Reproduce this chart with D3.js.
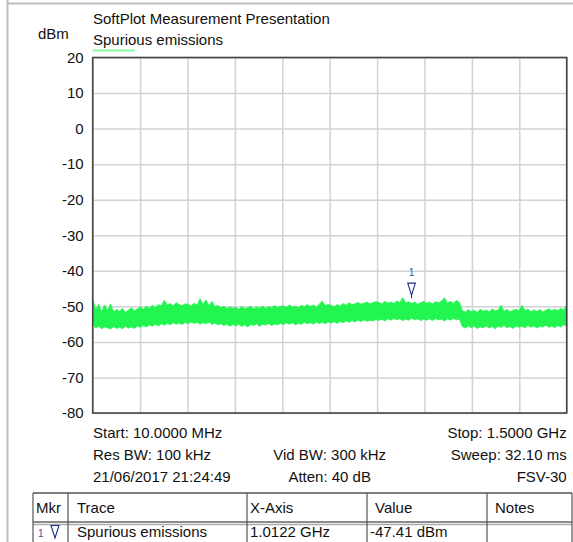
<!DOCTYPE html>
<html>
<head>
<meta charset="utf-8">
<script src="https://cdn.jsdelivr.net/npm/d3@7"></script>
<style>
  body { margin: 0; background: #fff; }
  svg { display: block; font-family: "Liberation Sans", Arial, sans-serif; }
</style>
</head>
<body>
<svg id="chart" width="573" height="542"></svg>
<script>
// sweep settings (MHz) and level axis
var freqStart = 10, freqStop = 1500;
var yTicks = [20, 10, 0, -10, -20, -30, -40, -50, -60, -70, -80];

// upper and lower edge of the noise trace, dBm (160 sweep points)
var traceTop = [
  -47.7, -51.0, -49.4, -51.5, -49.6, -51.2, -49.3, -51.6, -50.9, -51.4, -50.6, -51.7, -51.0, -50.4, -51.3, -50.7,
  -50.2, -50.8, -50.0, -50.5, -49.7, -50.3, -49.5, -49.9, -48.3, -49.6, -49.2, -49.9, -49.0, -49.5, -49.8, -49.3,
  -49.4, -49.9, -49.1, -49.7, -47.8, -49.5, -48.2, -49.8, -48.6, -50.1, -49.7, -50.4, -50.0, -50.6, -50.2, -50.5,
  -50.3, -50.8, -50.1, -50.6, -50.4, -50.0, -50.7, -50.2, -50.5, -49.9, -50.6, -50.1, -50.4, -49.8, -50.3, -50.0,
  -49.8, -50.3, -49.6, -50.2, -49.9, -50.4, -49.7, -50.1, -49.5, -50.0, -49.6, -50.2, -49.4, -48.5, -49.8, -49.5,
  -49.7, -50.1, -49.5, -49.9, -49.2, -49.7, -49.0, -49.5, -49.3, -48.9, -49.4, -49.1, -48.8, -49.3, -49.0, -48.7,
  -48.9, -49.3, -48.6, -49.1, -48.8, -49.2, -48.5, -48.9, -47.6, -49.0, -48.7, -49.2, -48.8, -49.4, -49.0, -48.6,
  -49.1, -48.8, -49.3, -48.7, -49.0, -48.5, -47.6, -49.1, -48.6, -49.2, -48.3, -48.9, -51.2, -51.6, -50.9, -51.5,
  -51.1, -51.7, -50.8, -51.4, -51.0, -51.6, -50.7, -51.3, -51.0, -49.7, -51.4, -50.9, -51.5, -51.1, -50.8, -51.3,
  -49.7, -51.2, -50.8, -51.5, -51.0, -51.4, -50.9, -51.6, -51.1, -50.7, -51.3, -50.8, -51.2, -50.6, -51.0, -49.5
];
var traceBottom = [
  -55.2, -56.1, -55.6, -56.3, -55.8, -56.0, -56.4, -55.7, -56.2, -55.9, -56.3, -55.6, -56.1, -55.8, -56.2, -55.5,
  -55.9, -55.4, -55.8, -55.2, -55.6, -55.0, -55.5, -54.9, -55.3, -54.8, -55.2, -54.6, -55.0, -54.7, -55.1, -54.5,
  -54.9, -54.4, -54.8, -54.5, -55.0, -54.6, -54.9, -54.4, -55.1, -54.7, -55.2, -54.9, -55.4, -55.0, -55.6, -55.1,
  -55.5, -55.0, -55.7, -55.2, -55.8, -55.1, -55.4, -54.9, -55.6, -55.0, -55.3, -54.8, -55.4, -55.0, -55.2, -54.8,
  -55.1, -54.7, -55.0, -54.6, -55.2, -54.8, -55.0, -54.5, -54.9, -54.6, -55.0, -54.4, -54.8, -54.5, -54.9, -54.4,
  -54.7, -54.3, -54.8, -54.2, -54.6, -54.1, -54.5, -54.0, -54.4, -53.9, -54.3, -53.8, -54.2, -53.9, -54.1, -53.7,
  -54.0, -53.6, -54.1, -53.5, -53.9, -53.4, -53.8, -53.5, -54.0, -53.6, -53.9, -53.3, -53.8, -53.5, -54.0, -53.6,
  -53.9, -53.5, -54.0, -53.4, -53.8, -53.6, -54.1, -53.5, -53.9, -53.4, -53.8, -53.6, -55.7, -56.1, -55.5, -56.0,
  -55.6, -56.2, -55.8, -56.0, -55.5, -56.1, -55.7, -56.3, -55.6, -55.9, -55.4, -56.0, -55.7, -56.2, -55.5, -55.9,
  -55.6, -56.0, -55.4, -55.9, -55.5, -56.1, -55.6, -55.8, -55.3, -55.9, -55.5, -56.0, -55.4, -55.8, -55.2, -55.6
];

var markerFreq = 1012.2, markerLevel = -47.41;

var infoLeft = ["Start: 10.0000 MHz", "Res BW: 100 kHz", "21/06/2017 21:24:49"];
var infoCenter = ["", "Vid BW: 300 kHz", "Atten: 40 dB"];
var infoRight = ["Stop: 1.5000 GHz", "Sweep: 32.10 ms", "FSV-30"];

var tableHeaders = ["Mkr", "Trace", "X-Axis", "Value", "Notes"];
var tableRow = ["1", "Spurious emissions", "1.0122 GHz", "-47.41 dBm", ""];

var traceColor = "#22f550";
var markerColor = "#1f2a8c";
var fontSize = 15;

// plot box
var plot = { left: 92.7, right: 566.7, top: 57.5, bottom: 413 };

var svg = d3.select("#chart");

var x = d3.scaleLinear()
    .domain([freqStart, freqStop])
    .range([plot.left, plot.right]);

var y = d3.scaleLinear()
    .domain([-80, 20])
    .range([plot.bottom, plot.top]);

// outer page rules
svg.append("line")
    .attr("x1", 7.5).attr("x2", 7.5).attr("y1", 0).attr("y2", 542)
    .attr("stroke", "#bdbdbd").attr("stroke-width", 2);
svg.append("line")
    .attr("x1", 7.5).attr("x2", 573).attr("y1", 3.5).attr("y2", 3.5)
    .attr("stroke", "#bdbdbd").attr("stroke-width", 2);

// titles
svg.append("text").attr("x", 93).attr("y", 23.5)
    .attr("font-size", fontSize).attr("fill", "#111")
    .text("SoftPlot Measurement Presentation");
svg.append("text").attr("x", 38).attr("y", 38.5)
    .attr("font-size", fontSize).attr("fill", "#111")
    .text("dBm");
svg.append("text").attr("x", 93).attr("y", 44.5)
    .attr("font-size", fontSize).attr("fill", "#111")
    .text("Spurious emissions");
svg.append("line")
    .attr("x1", 92.7).attr("x2", 135).attr("y1", 50.5).attr("y2", 50.5)
    .attr("stroke", traceColor).attr("stroke-opacity", 0.55).attr("stroke-width", 2);

// gridlines
var xGridTicks = d3.range(11).map(function (i) { return freqStart + i * (freqStop - freqStart) / 10; });

svg.append("g")
    .attr("id", "x-grid")
    .attr("transform", "translate(0," + plot.bottom + ")")
    .call(d3.axisBottom(x).tickValues(xGridTicks).tickSize(-(plot.bottom - plot.top)).tickFormat(""))
    .call(function (g) { g.select(".domain").remove(); })
    .selectAll("line")
    .attr("stroke", "#d2d2d2")
    .attr("stroke-width", 1.5);

svg.append("g")
    .attr("id", "y-axis")
    .attr("transform", "translate(" + plot.left + ",0)")
    .call(d3.axisLeft(y)
        .tickValues(yTicks)
        .tickSize(-(plot.right - plot.left))
        .tickPadding(9)
        .tickFormat(function (d) { return String(d); }))
    .call(function (g) { g.select(".domain").remove(); })
    .call(function (g) {
        g.selectAll("line").attr("stroke", "#d2d2d2").attr("stroke-width", 1.5);
        g.selectAll("text")
            .attr("font-size", fontSize)
            .attr("font-family", "Liberation Sans, Arial, sans-serif")
            .attr("fill", "#111");
    });

// trace
svg.append("clipPath").attr("id", "plot-clip")
    .append("rect")
    .attr("x", plot.left).attr("y", plot.top)
    .attr("width", plot.right - plot.left).attr("height", plot.bottom - plot.top);

var n = traceTop.length;
var sweep = traceTop.map(function (t, i) {
    return { f: freqStart + i * (freqStop - freqStart) / (n - 1), top: t, bottom: traceBottom[i] };
});

var area = d3.area()
    .x(function (d) { return x(d.f); })
    .y0(function (d) { return y(d.bottom); })
    .y1(function (d) { return y(d.top); });

svg.append("path")
    .datum(sweep)
    .attr("clip-path", "url(#plot-clip)")
    .attr("d", area)
    .attr("fill", traceColor)
    .attr("stroke", traceColor)
    .attr("stroke-width", 0.8);

// frame
svg.append("rect")
    .attr("x", plot.left).attr("y", plot.top)
    .attr("width", plot.right - plot.left).attr("height", plot.bottom - plot.top)
    .attr("fill", "none")
    .attr("stroke", "#444")
    .attr("stroke-width", 1.6);

// marker 1
var mx = x(markerFreq), my = y(markerLevel);
svg.append("path")
    .attr("d", "M" + (mx - 3.8) + "," + (my - 14) + "L" + (mx + 3.8) + "," + (my - 14) + "L" + mx + "," + (my - 2) + "Z")
    .attr("fill", "none")
    .attr("stroke", markerColor)
    .attr("stroke-width", 1.1);
svg.append("line")
    .attr("x1", mx).attr("x2", mx).attr("y1", my - 2).attr("y2", my + 1)
    .attr("stroke", markerColor).attr("stroke-width", 1);
svg.append("text")
    .attr("x", mx).attr("y", my - 21)
    .attr("text-anchor", "middle")
    .attr("font-size", 10)
    .attr("fill", "#4a4aa6")
    .text("1");

// setting lines under the plot
var infoY = [438, 460, 482];
infoLeft.forEach(function (t, i) {
    svg.append("text").attr("x", 93).attr("y", infoY[i])
        .attr("font-size", fontSize).attr("fill", "#111").text(t);
});
infoCenter.forEach(function (t, i) {
    svg.append("text").attr("x", (plot.left + plot.right) / 2).attr("y", infoY[i])
        .attr("text-anchor", "middle")
        .attr("font-size", fontSize).attr("fill", "#111").text(t);
});
infoRight.forEach(function (t, i) {
    svg.append("text").attr("x", plot.right).attr("y", infoY[i])
        .attr("text-anchor", "end")
        .attr("font-size", fontSize).attr("fill", "#111").text(t);
});

// marker table
var colEdges = [33, 68, 247, 367, 487, 572];
var colTextX = [36, 77, 250, 375, 495];
var tableTop = 493, headLine = 522, rowBottom = 560;

var table = svg.append("g").attr("id", "marker-table");

table.append("line")
    .attr("x1", colEdges[0]).attr("x2", colEdges[5]).attr("y1", tableTop).attr("y2", tableTop)
    .attr("stroke", "#555").attr("stroke-width", 1.5);
table.append("line")
    .attr("x1", colEdges[0]).attr("x2", colEdges[5]).attr("y1", headLine).attr("y2", headLine)
    .attr("stroke", "#666").attr("stroke-width", 1.5);
table.append("line")
    .attr("x1", colEdges[0]).attr("x2", colEdges[5]).attr("y1", headLine + 2.5).attr("y2", headLine + 2.5)
    .attr("stroke", "#aaa").attr("stroke-width", 1.5);

colEdges.forEach(function (cx) {
    table.append("line")
        .attr("x1", cx).attr("x2", cx).attr("y1", tableTop).attr("y2", rowBottom)
        .attr("stroke", "#555").attr("stroke-width", 1.2);
});

tableHeaders.forEach(function (t, i) {
    table.append("text").attr("x", colTextX[i]).attr("y", 513)
        .attr("font-size", fontSize).attr("fill", "#111").text(t);
});

tableRow.forEach(function (t, i) {
    if (i == 0) {
        table.append("text").attr("x", 38).attr("y", 537)
            .attr("font-size", 10).attr("fill", "#4a4aa6").text(t);
        table.append("path")
            .attr("d", "M51,525.5L59,525.5L55,538Z")
            .attr("fill", "none").attr("stroke", markerColor).attr("stroke-width", 1.1);
        return;
    }
    var tx = i == 3 ? 370 : colTextX[i];
    table.append("text").attr("x", tx).attr("y", 537)
        .attr("font-size", fontSize).attr("fill", "#111").text(t);
});
</script>
</body>
</html>
